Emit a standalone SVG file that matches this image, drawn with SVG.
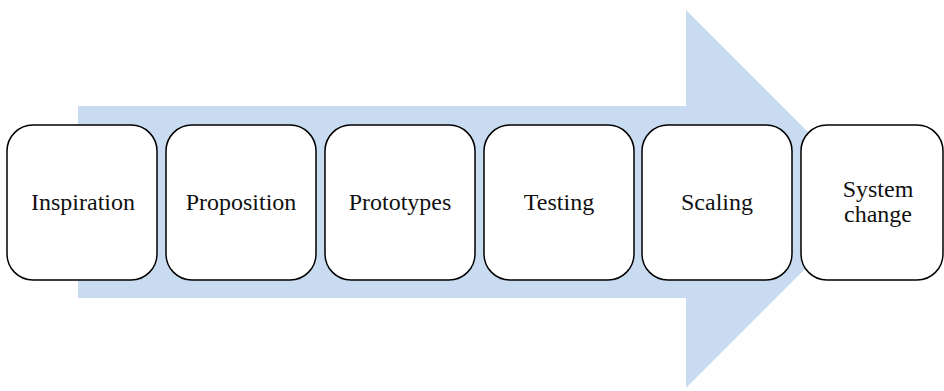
<svg xmlns="http://www.w3.org/2000/svg" width="944" height="391" viewBox="0 0 944 391">
<style>
.n{fill:#fff;stroke:#000;stroke-width:1.5}
.t{font-family:'Liberation Serif','Times New Roman',serif;font-size:24px;fill:#111;text-anchor:middle}
</style>
<rect width="944" height="391" fill="#fff"/>
<g id="arrow">
<polygon points="78,106 686,106 686,10 875,199 686,388 686,298 78,298" fill="#c8dbf1"/>
</g>
<g id="connectors"></g>
<g id="n1"><rect class="n" x="7" y="125" width="150" height="155" rx="26"/><text class="t" x="83" y="210">Inspiration</text></g>
<g id="n2"><rect class="n" x="166" y="125" width="150" height="155" rx="26"/><text class="t" x="241" y="210">Proposition</text></g>
<g id="n3"><rect class="n" x="325" y="125" width="150" height="155" rx="26"/><text class="t" x="400" y="210">Prototypes</text></g>
<g id="n4"><rect class="n" x="484" y="125" width="150" height="155" rx="26"/><text class="t" x="559" y="210">Testing</text></g>
<g id="n5"><rect class="n" x="642" y="125" width="150" height="155" rx="26"/><text class="t" x="717" y="210">Scaling</text></g>
<g id="n6"><rect class="n" x="801" y="125" width="142" height="155" rx="26"/><text class="t" x="878" y="197">System</text><text class="t" x="878" y="222">change</text></g>
</svg>
